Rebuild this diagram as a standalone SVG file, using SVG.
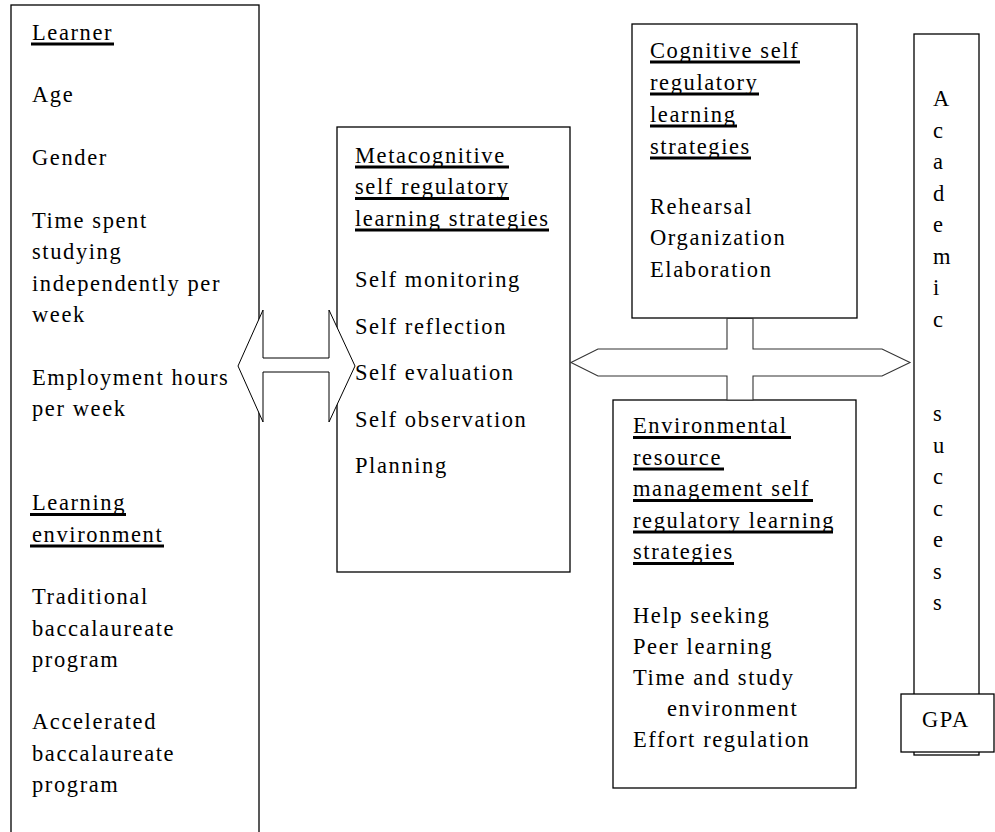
<svg xmlns="http://www.w3.org/2000/svg" width="995" height="832" viewBox="0 0 995 832">
<style>
.box{fill:#fff;stroke:#000;stroke-width:1.3}
.t{font-family:"Liberation Serif","Times New Roman",serif;font-size:22.5px;letter-spacing:1.6px;fill:#000}
.ul{stroke:#000;stroke-width:3}
.arrow{fill:#fff;stroke:#000;stroke-width:1}
.cross{fill:#fff;stroke:#333;stroke-width:1.1}
</style>
<rect width="995" height="832" fill="#fff"/>

<g id="learner">
<rect class="box" x="11" y="5" width="248" height="850"/>
<text class="t" x="32" y="39.5">Learner</text>
<line class="ul" x1="31" y1="44" x2="114" y2="44"/>
<text class="t" x="32" y="102">Age</text>
<text class="t" x="32" y="165">Gender</text>
<text class="t" x="32" y="227.5">Time spent</text>
<text class="t" x="32" y="259">studying</text>
<text class="t" x="32" y="290.5">independently per</text>
<text class="t" x="32" y="322">week</text>
<text class="t" x="32" y="384.5">Employment hours</text>
<text class="t" x="32" y="416">per week</text>
<text class="t" x="32" y="510">Learning</text>
<line class="ul" x1="30" y1="514.5" x2="126" y2="514.5"/>
<text class="t" x="32" y="541.5">environment</text>
<line class="ul" x1="30" y1="546" x2="164" y2="546"/>
<text class="t" x="32" y="604">Traditional</text>
<text class="t" x="32" y="635.5">baccalaureate</text>
<text class="t" x="32" y="667">program</text>
<text class="t" x="32" y="729">Accelerated</text>
<text class="t" x="32" y="760.5">baccalaureate</text>
<text class="t" x="32" y="792">program</text>
</g>

<g id="metacognitive">
<rect class="box" x="337" y="127" width="233" height="445"/>
<text class="t" x="355" y="162.5">Metacognitive</text>
<line class="ul" x1="355" y1="167" x2="509" y2="167"/>
<text class="t" x="355" y="194">self regulatory</text>
<line class="ul" x1="355" y1="198.5" x2="509" y2="198.5"/>
<text class="t" x="355" y="225.5">learning strategies</text>
<line class="ul" x1="355" y1="230" x2="549" y2="230"/>
<text class="t" x="355" y="287">Self monitoring</text>
<text class="t" x="355" y="333.5">Self reflection</text>
<text class="t" x="355" y="380">Self evaluation</text>
<text class="t" x="355" y="426.5">Self observation</text>
<text class="t" x="355" y="473">Planning</text>
</g>

<g id="cognitive">
<rect class="box" x="632" y="24" width="225" height="294"/>
<text class="t" x="650" y="57.5">Cognitive self</text>
<line class="ul" x1="650" y1="62" x2="800" y2="62"/>
<text class="t" x="650" y="89.5">regulatory</text>
<line class="ul" x1="650" y1="94" x2="759" y2="94"/>
<text class="t" x="650" y="121.5">learning</text>
<line class="ul" x1="650" y1="126" x2="737" y2="126"/>
<text class="t" x="650" y="153.5">strategies</text>
<line class="ul" x1="650" y1="158" x2="751" y2="158"/>
<text class="t" x="650" y="213.5">Rehearsal</text>
<text class="t" x="650" y="245">Organization</text>
<text class="t" x="650" y="276.5">Elaboration</text>
</g>

<g id="environmental">
<rect class="box" x="613" y="400" width="243" height="388"/>
<text class="t" x="633" y="433">Environmental</text>
<line class="ul" x1="633" y1="437.5" x2="791" y2="437.5"/>
<text class="t" x="633" y="464.5">resource</text>
<line class="ul" x1="633" y1="469" x2="724" y2="469"/>
<text class="t" x="633" y="496">management self</text>
<line class="ul" x1="633" y1="500.5" x2="813" y2="500.5"/>
<text class="t" x="633" y="527.5">regulatory learning</text>
<line class="ul" x1="633" y1="532" x2="833" y2="532"/>
<text class="t" x="633" y="559">strategies</text>
<line class="ul" x1="633" y1="563.5" x2="734" y2="563.5"/>
<text class="t" x="633" y="623">Help seeking</text>
<text class="t" x="633" y="654">Peer learning</text>
<text class="t" x="633" y="685">Time and study</text>
<text class="t" x="667" y="716">environment</text>
<text class="t" x="633" y="747">Effort regulation</text>
</g>

<g id="academic-success">
<rect class="box" x="914" y="34" width="65" height="721"/>
<text class="t" x="933" y="106">A</text>
<text class="t" x="933" y="137.5">c</text>
<text class="t" x="933" y="169">a</text>
<text class="t" x="933" y="200.5">d</text>
<text class="t" x="933" y="232">e</text>
<text class="t" x="933" y="263.5">m</text>
<text class="t" x="933" y="295">i</text>
<text class="t" x="933" y="326.5">c</text>
<text class="t" x="933" y="421">s</text>
<text class="t" x="933" y="452.5">u</text>
<text class="t" x="933" y="484">c</text>
<text class="t" x="933" y="515.5">c</text>
<text class="t" x="933" y="547">e</text>
<text class="t" x="933" y="578.5">s</text>
<text class="t" x="933" y="610">s</text>
</g>

<g id="gpa">
<rect class="box" x="901" y="694" width="93" height="58"/>
<text class="t" x="922" y="727">GPA</text>
</g>

<g id="connectors">
<polygon class="arrow" points="238,366 263,310 263,358 329,358 329,310 355,366 329,422 329,372 263,372 263,422"/>
<polygon class="cross" points="571,362.5 598,349 727,349 727,318.5 753,318.5 753,349 882,349 910,362.5 882,376 753,376 753,400 727,400 727,376 598,376"/>
</g>
</svg>
